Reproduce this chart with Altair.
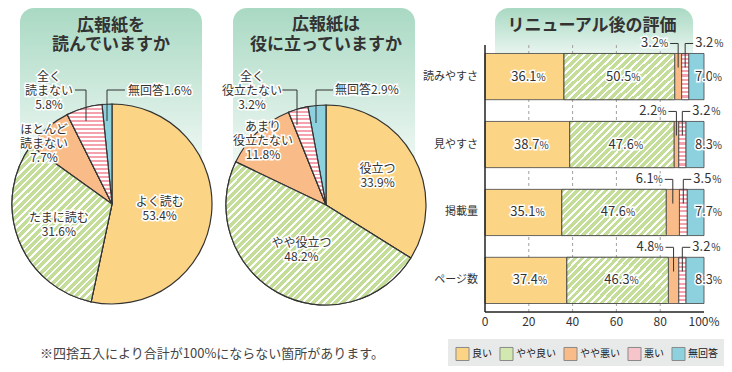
import altair as alt
import pandas as pd

FONT = "Noto Sans CJK JP"

# ---------------- data ----------------
cats = ['良い', 'やや良い', 'やや悪い', '悪い', '無回答']
cat_colors = ['#FCD486', '#D3E7B0', '#F9BB87', '#F6C4CB', '#8DD0DE']

pie1_title = ['広報紙を', '読んでいますか']
pie1_labels = [['よく読む'], ['たまに読む'], ['ほとんど', '読まない'], ['全く', '読まない'], ['無回答']]
pie1_values = [53.4, 31.6, 7.7, 5.8, 1.6]

pie2_title = ['広報紙は', '役に立っていますか']
pie2_labels = [['役立つ'], ['やや役立つ'], ['あまり', '役立たない'], ['全く', '役立たない'], ['無回答']]
pie2_values = [33.9, 48.2, 11.8, 3.2, 2.9]

bar_title = 'リニューアル後の評価'
items = ['読みやすさ', '見やすさ', '掲載量', 'ページ数']
bar_good = [36.1, 38.7, 35.1, 37.4]
bar_fair = [50.5, 47.6, 47.6, 46.3]
bar_poor = [3.2, 2.2, 6.1, 4.8]
bar_bad = [3.2, 3.2, 3.5, 3.2]
bar_na = [7.0, 8.3, 7.7, 8.3]
x_ticks = [0, 20, 40, 60, 80, 100]
x_tick_labels = ['0', '20', '40', '60', '80', '100%']
grid_vals = [20, 40, 60, 80]
note = '※四捨五入により合計が100%にならない箇所があります。'

# ---------------- layout / style ----------------
W, H = 716, 358
X_RANGE = [477, 696]
Y_RANGE = [37, 304]
PIE_R = 100
LH = 14
PIES = [
    dict(cx=104, cy=196, title_x=103, title_y=[18, 37],
         panel=(12, 194, 190),
         inner=[(0, 48), (1, 57)],
         outer=[(2, 36, 136, 'center'), (3, 41, 83, 'center'), (4, 120, 83, 'left')],
         leaders=[((67, 82), (78, 82)), ((78, 82), (78, 113)),
                  ((99, 82), (117, 82)), ((99, 82), (99, 113))],
         diag=(0.743, 1.164, 35), horiz=25),
    dict(cx=318, cy=197, title_x=318, title_y=[17, 37],
         panel=(225, 407, 190),
         inner=[(0, 59), (1, 51)],
         outer=[(2, 255, 133, 'center'), (3, 244, 83, 'center'), (4, 327, 82, 'left')],
         leaders=[((274, 82), (289, 82)), ((289, 82), (289, 117)),
                  ((308, 82), (325, 82)), ((308, 82), (308, 115))],
         diag=(1.109, 0.859, 45), horiz=25),
]
BAR_DIAG = (1.206, 0.531, 21)
BAR_HORIZ = 11
GREEN, PINK, WHITE = '#C4DE9A', '#F3A2AE', '#FFFFFF'
BAR_PANEL = (487, 685, 62)
BAR_TITLE_X, BAR_TITLE_Y = 584, 17.5
XLAB_Y = 314
YLAB_X = 470

one = pd.DataFrame({'d': [0]})


def stripes(c1, c2, n, frac, x2, y2):
    st = []
    for i in range(n):
        a, b, c = i / n, (i + frac) / n, (i + 1) / n
        st += [alt.GradientStop(color=c1, offset=a), alt.GradientStop(color=c1, offset=b),
               alt.GradientStop(color=c2, offset=b), alt.GradientStop(color=c2, offset=c)]
    return alt.LinearGradient(gradient='linear', x1=0, y1=0, x2=x2, y2=y2, stops=st)


color_enc = alt.Color(
    'cat:N',
    scale=alt.Scale(domain=cats, range=cat_colors),
    legend=alt.Legend(orient='none', legendX=440, legendY=331, direction='horizontal',
                      title=None, fillColor='#e8eaea', padding=7,
                      symbolType='square', symbolSize=170, symbolStrokeColor='#8a8a8a',
                      symbolStrokeWidth=1, symbolOpacity=1,
                      labelFont=FONT, labelFontSize=10, labelColor='#222',
                      labelOffset=2, columnPadding=5),
)

grad = alt.LinearGradient(
    gradient='linear', x1=0, x2=0, y1=0, y2=1,
    stops=[alt.GradientStop(color='#a9d9c3', offset=0),
           alt.GradientStop(color='#ffffff', offset=1)])

layers = []


def text_pair(chart, **kw):
    base = dict(font=FONT, fontSize=13, color='#333', baseline='middle')
    base.update(kw)
    halo = dict(base)
    halo.update(stroke='white', strokeWidth=3, color='white')
    return [chart.mark_text(**halo), chart.mark_text(**base)]


def fixed_lines(lines, x, y_center, align='center', size=12, lh=LH):
    out = []
    n = len(lines)
    for i, ln in enumerate(lines):
        y = y_center + (i - (n - 1) / 2) * lh
        ch = alt.Chart(pd.DataFrame({'t': [ln]})).encode(
            x=alt.value(x), y=alt.value(y), text='t:N')
        out += text_pair(ch, fontSize=size, align=align)
    return out


# panels
for p in PIES:
    x1, x2, y2 = p['panel']
    layers.append(alt.Chart(one).mark_rect(cornerRadius=14, fill=grad).encode(
        x=alt.value(x1), x2=alt.value(x2), y=alt.value(0), y2=alt.value(y2)))
x1, x2, y2 = BAR_PANEL
layers.append(alt.Chart(one).mark_rect(cornerRadius=14, fill=grad).encode(
    x=alt.value(x1), x2=alt.value(x2), y=alt.value(0), y2=alt.value(y2)))

# titles
for p, t in zip(PIES, [pie1_title, pie2_title]):
    for ln, ty in zip(t, p['title_y']):
        layers.append(alt.Chart(pd.DataFrame({'t': [ln]})).mark_text(
            font=FONT, fontSize=17, fontWeight='bold', color='#333',
            align='center', baseline='middle').encode(
            x=alt.value(p['title_x']), y=alt.value(ty), text='t:N'))
layers.append(alt.Chart(pd.DataFrame({'t': [bar_title]})).mark_text(
    font=FONT, fontSize=17, fontWeight='bold', color='#333', align='center',
    baseline='middle').encode(
    x=alt.value(BAR_TITLE_X), y=alt.value(BAR_TITLE_Y), text='t:N'))

# ---------------- bars ----------------
rows = []
for i, it in enumerate(items):
    for j, (c, arr) in enumerate(zip(cats, [bar_good, bar_fair, bar_poor, bar_bad, bar_na])):
        rows.append(dict(item=it, cat=c, order=j, val=arr[i]))
bar_df = pd.DataFrame(rows)

xscale = alt.Scale(domain=[0, 100], range=X_RANGE, nice=False, zero=True)
yscale = alt.Scale(domain=items, range=Y_RANGE, paddingInner=0.32, paddingOuter=0.125)


def X(f):
    return alt.X(f, scale=xscale, axis=None)


def Y(**kw):
    return alt.Y('item:N', sort=items, scale=yscale, axis=None, **kw)


# grid
layers.append(alt.Chart(pd.DataFrame({'g': grid_vals})).mark_rule(
    strokeDash=[3, 3], color='#a0a0a0', strokeWidth=1).encode(
    x=X('g:Q'), y=alt.value(Y_RANGE[0]), y2=alt.value(Y_RANGE[1])))

bar_base = alt.Chart(bar_df).transform_stack(
    stack='val', groupby=['item'], as_=['x0', 'x1'],
    sort=[alt.SortField('order', order='ascending')]
).transform_calculate(
    mid='(datum.x0 + datum.x1) / 2',
    num="format(datum.val, '.1f')")

layers.append(bar_base.mark_bar(stroke='#444', strokeWidth=0.8).encode(
    x=X('x0:Q'), x2='x1:Q', y=Y(), color=color_enc))
layers.append(bar_base.transform_filter("datum.cat == 'やや良い'").mark_bar(
    stroke='#444', strokeWidth=0.8,
    fill=stripes(GREEN, WHITE, BAR_DIAG[2], 0.66, BAR_DIAG[0], BAR_DIAG[1])).encode(
    x=X('x0:Q'), x2='x1:Q', y=Y()))
layers.append(bar_base.transform_filter("datum.cat == '悪い'").mark_bar(
    stroke='#444', strokeWidth=0.8,
    fill=stripes(PINK, WHITE, BAR_HORIZ, 0.5, 0, 1)).encode(
    x=X('x0:Q'), x2='x1:Q', y=Y()))

# axes drawn with the scales
layers.append(alt.Chart(pd.DataFrame({'v': [0]})).mark_rule(color='#222', strokeWidth=1.5).encode(
    x=X('v:Q'), y=alt.value(Y_RANGE[0]), y2=alt.value(Y_RANGE[1])))
layers.append(alt.Chart(pd.DataFrame({'a': [0], 'b': [100]})).mark_rule(color='#222', strokeWidth=1.5).encode(
    x=X('a:Q'), x2='b:Q', y=alt.value(Y_RANGE[1])))
layers.append(alt.Chart(pd.DataFrame({'v': x_ticks, 't': x_tick_labels})).mark_text(
    font=FONT, fontSize=12, color='#333', align='center', baseline='middle').encode(
    x=X('v:Q'), y=alt.value(XLAB_Y), text='t:N'))
layers.append(alt.Chart(pd.DataFrame({'item': items})).mark_text(
    font=FONT, fontSize=11, color='#333', align='right', baseline='middle').encode(
    x=alt.value(YLAB_X), y=Y(), text='item:N'))


def num_pct(chart, xfield, yenc, num_dx, pct_dx, num_align, pct_align, dy=0):
    out = []
    out += text_pair(chart.encode(x=X(xfield), y=yenc, text='num:N'),
                     align=num_align, dx=num_dx, dy=dy)
    out += text_pair(chart.encode(x=X(xfield), y=yenc, text=alt.value('%')),
                     align=pct_align, dx=pct_dx, dy=dy + 1, fontSize=10)
    return out


inner = bar_base.transform_filter("datum.cat == '良い' || datum.cat == 'やや良い'")
layers += num_pct(inner, 'mid:Q', Y(), 12, 12, 'right', 'left')

na = bar_base.transform_filter("datum.cat == '無回答'")
layers += num_pct(na, 'x1:Q', Y(), 9, 18, 'right', 'right')

for c, sign in [('やや悪い', -1), ('悪い', 1)]:
    sub = bar_base.transform_filter(f"datum.cat == '{c}'")
    layers.append(sub.mark_tick(orient='vertical', size=24, thickness=1, color='#333',
                                yOffset=-21, opacity=1).encode(
        x=X('mid:Q'), y=Y()))
    layers.append(sub.mark_rule(color='#333', strokeWidth=1, yOffset=-10,
                                x2Offset=8 * sign).encode(
        x=X('mid:Q'), x2='mid:Q', y=Y(bandPosition=0)))
    if sign < 0:
        layers += num_pct(sub, 'mid:Q', Y(bandPosition=0), -19, -10, 'right', 'right', dy=-10)
    else:
        layers += num_pct(sub, 'mid:Q', Y(bandPosition=0), 10, 29, 'left', 'left', dy=-10)

# ---------------- pies ----------------
for p, labels, vals in zip(PIES, [pie1_labels, pie2_labels], [pie1_values, pie2_values]):
    df = pd.DataFrame(dict(cat=cats, order=list(range(5)), val=vals))
    for k, _ in p['inner']:
        df[f'n{k}'] = [labels[k][0] if i == k else '' for i in range(5)]
        df[f'v{k}'] = [f'{vals[k]:.1f}%' if i == k else '' for i in range(5)]
    arc_enc = dict(theta=alt.Theta('val:Q', stack='normalize'),
                   order=alt.Order('order:Q'),
                   x=alt.value(p['cx']), y=alt.value(p['cy']))
    layers.append(alt.Chart(df).mark_arc(outerRadius=PIE_R, stroke='#333',
                                         strokeWidth=1.2).encode(color=color_enc, **arc_enc))
    dx2, dy2, dn = p['diag']
    for c, fill in [('やや良い', stripes(GREEN, WHITE, dn, 0.66, dx2, dy2)),
                    ('悪い', stripes(PINK, WHITE, p['horiz'], 0.5, 0, 1))]:
        layers.append(alt.Chart(df).mark_arc(outerRadius=PIE_R, stroke='#333',
                                             strokeWidth=1.2, fill=fill).encode(
            opacity=alt.condition(f"datum.cat == '{c}'", alt.value(1), alt.value(0)),
            **arc_enc))
    for k, r in p['inner']:
        for col, dy in [(f'n{k}', -LH / 2), (f'v{k}', LH / 2)]:
            ch = alt.Chart(df).encode(
                theta=alt.Theta('val:Q', stack='normalize'),
                order=alt.Order('order:Q'),
                detail='cat:N',
                text=f'{col}:N',
                x=alt.value(p['cx']), y=alt.value(p['cy']))
            layers += text_pair(ch, fontSize=12, align='center', radius=r, dy=dy)
    for (a, b) in p['leaders']:
        if a[1] == b[1]:
            layers.append(alt.Chart(one).mark_rule(color='#333', strokeWidth=1).encode(
                x=alt.value(a[0]), x2=alt.value(b[0]), y=alt.value(a[1])))
        else:
            layers.append(alt.Chart(one).mark_rule(color='#333', strokeWidth=1).encode(
                x=alt.value(a[0]), y=alt.value(a[1]), y2=alt.value(b[1])))
    for k, ox, oy, al in p['outer']:
        if len(labels[k]) == 1:
            lines = [labels[k][0] + f'{vals[k]:.1f}%']
        else:
            lines = labels[k] + [f'{vals[k]:.1f}%']
        layers += fixed_lines(lines, ox, oy, align=al)

# note
layers.append(alt.Chart(pd.DataFrame({'t': [note]})).mark_text(
    font=FONT, fontSize=13, color='#444', align='left', baseline='middle').encode(
    x=alt.value(32), y=alt.value(346), text='t:N'))

chart = alt.layer(*layers).properties(
    width=W, height=H, padding={'left': 0, 'top': 0, 'right': 0, 'bottom': 0},
    autosize=alt.AutoSizeParams(type='none')
).configure_view(strokeWidth=0)

chart.save("out.html", embed_options={"renderer": "svg", "actions": False})
